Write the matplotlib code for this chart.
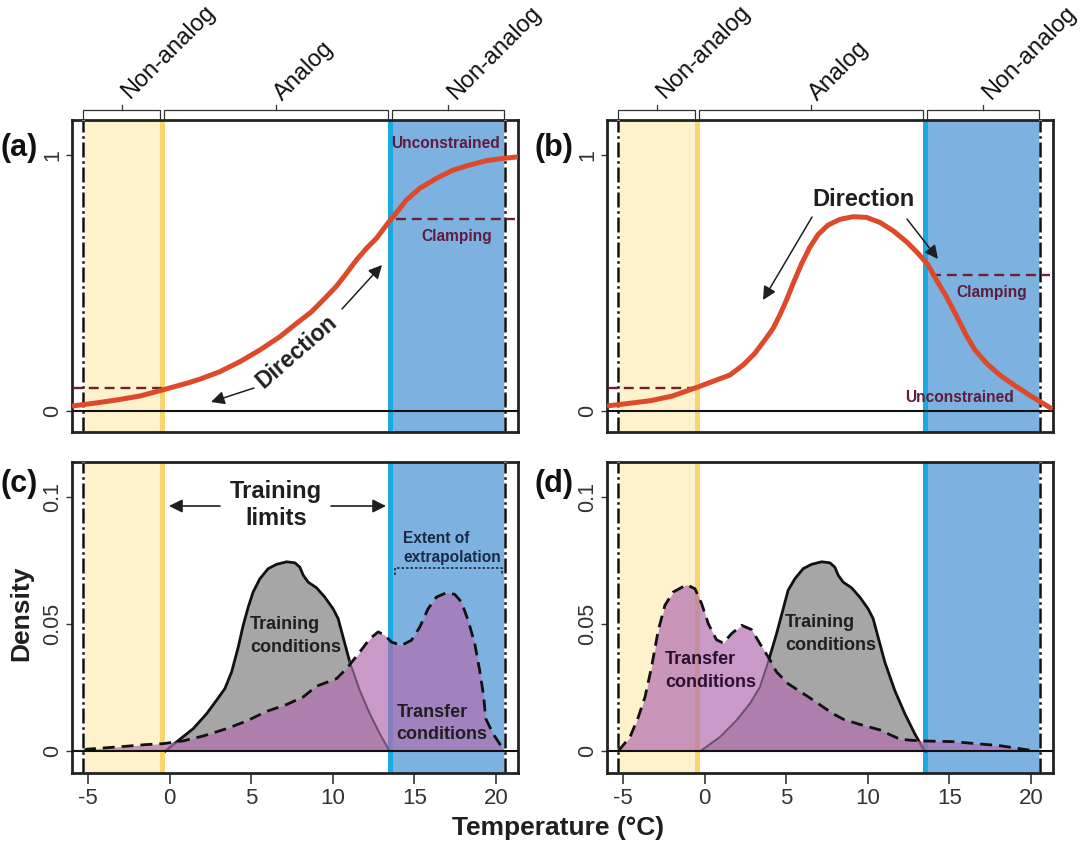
import matplotlib
matplotlib.use("Agg")
import matplotlib.pyplot as plt

plt.rcParams['font.family'] = ['Liberation Sans', 'DejaVu Sans']

W, H = 1080, 844

resp_a_x = [-5.98, -4.67, -3.25, -1.82, -0.59, 1.04, 1.86, 3.08, 4.31, 5.53, 6.76, 7.78, 8.7, 9.51, 10.23, 10.84,
            11.45, 12.06, 12.68, 13.39, 13.7, 14.51, 15.33, 16.35, 17.37, 18.39, 19.41, 20.43, 21.35]
resp_a_y = [0.0196, 0.03, 0.043, 0.0586, 0.0795, 0.1081, 0.1245, 0.1537, 0.1927, 0.2383, 0.2904, 0.3425, 0.388, 0.44,
            0.488, 0.538, 0.59, 0.635, 0.675, 0.735, 0.759, 0.824, 0.870, 0.909, 0.9414, 0.961, 0.978, 0.987, 0.993]
resp_b_x = [-5.98, -5.0, -3.35, -2.0, -0.4, 0.6, 1.55, 2.37, 3.08, 3.69, 4.2, 4.61, 5.02, 5.43, 5.94, 6.45, 6.96,
            7.57, 8.29, 9.1, 9.92, 10.74, 11.55, 12.37, 13.08, 13.7, 14.21, 14.82, 15.53, 16.0, 16.55, 17.3, 18.1,
            19.0, 19.9, 20.6, 21.3]
resp_b_y = [0.02, 0.027, 0.04, 0.058, 0.094, 0.118, 0.1407, 0.18, 0.2253, 0.2774, 0.323, 0.375, 0.4336, 0.4987, 0.575,
            0.64, 0.69, 0.7266, 0.7487, 0.7591, 0.7565, 0.737, 0.7044, 0.6615, 0.616, 0.5703, 0.5118, 0.4466, 0.36,
            0.30, 0.24, 0.185, 0.14, 0.1, 0.0625, 0.035, 0.008]
clamp_low = 0.0886
clamp_high_a = 0.75
clamp_high_b = 0.53

train_c_x = [-0.25, 0.43, 1.45, 2.27, 2.88, 3.39, 3.8, 4.21, 4.51, 4.82, 5.12, 5.53, 6.04, 6.55, 7.17, 7.68, 7.98, 8.19,
             8.49, 9.0, 9.51, 10.02, 10.33, 10.63, 11.04, 11.65, 12.27, 12.88, 13.45, 13.55]
train_c_y = [0, 0.0036, 0.0088, 0.0147, 0.02, 0.0246, 0.0311, 0.041, 0.0495, 0.0567, 0.0626, 0.0678, 0.0718, 0.0735,
             0.0745, 0.0741, 0.0724, 0.0692, 0.0665, 0.0643, 0.0606, 0.056, 0.0521, 0.0449, 0.0351, 0.0239, 0.0147,
             0.0068, 0.0003, 0]
train_d_x = [-0.25, 0.94, 1.96, 2.78, 3.39, 3.96, 4.41, 5.12, 5.53, 6.04, 6.55, 7.17, 7.68, 7.98, 8.19,
             8.49, 9.0, 9.51, 10.02, 10.33, 10.63, 11.04, 11.65, 12.27, 12.88, 13.45, 13.55]
train_d_y = [0, 0.0055, 0.0121, 0.0187, 0.0252, 0.0364, 0.0462, 0.0633, 0.0678, 0.0718, 0.0735,
             0.0745, 0.0741, 0.0724, 0.0692, 0.0665, 0.0643, 0.0606, 0.056, 0.0521, 0.0449, 0.0351, 0.0239, 0.0147,
             0.0068, 0.0003, 0]
transfer_c_x = [-5.2, -5.1, -3.0, -1.5, -0.39, 0.84, 2.06, 3.49, 4.72, 5.94, 7.17, 8.19, 9.0, 10.23, 10.84, 11.55, 12.27,
                12.78, 13.19, 13.59, 14.21, 14.82, 15.33, 15.84, 16.35, 16.96, 17.47, 17.88, 18.29, 18.7, 19.0, 19.25,
                19.37, 19.82, 20.43, 20.5]
transfer_c_y = [0, 0.0007, 0.0017, 0.0025, 0.0029, 0.004, 0.0059, 0.0088, 0.0118, 0.0156, 0.0183, 0.0213, 0.0255, 0.0285,
                0.0324, 0.0381, 0.0442, 0.0469, 0.0456, 0.0429, 0.0416, 0.0436, 0.0488, 0.056, 0.0606, 0.0623, 0.0617,
                0.0587, 0.0515, 0.0423, 0.0318, 0.0213, 0.0128, 0.0068, 0.0009, 0]
transfer_d_x = [-5.29, -4.57, -4.06, -3.65, -3.25, -2.84, -2.43, -1.92, -1.1, -0.59, -0.18, 0.23, 0.73, 1.14, 1.65, 2.27,
                2.88, 3.39, 3.96, 4.41, 5.12, 6.36, 7.0, 7.84, 8.5, 9.5, 10.8, 11.4, 12.0, 13.1, 15.2, 18.1, 20.25]
transfer_d_y = [0, 0.0055, 0.0134, 0.0213, 0.0331, 0.0475, 0.0574, 0.0626, 0.0655, 0.0639, 0.058, 0.0501, 0.0438, 0.0425,
                0.0462, 0.0495, 0.0478, 0.0423, 0.0364, 0.0311, 0.0265, 0.0213, 0.0185, 0.0148, 0.0125, 0.0105, 0.0082,
                0.0063, 0.0046, 0.004, 0.0037, 0.0021, 0]
# where the training line goes under the transfer fill
cross_c = 11.04
cross_d = 3.96

x_ticks = [-5, 0, 5, 10, 15, 20]
x_labels = ['-5', '0', '5', '10', '15', '20']

PANEL_XLIM = (-5.98, 21.35)
YLIM_RESP = (-0.082, 1.137)
YLIM_DENS = (-0.00866, 0.1138)

INK = '#1f1f1f'
RED = '#dd4a2b'
MAROON = '#6e1f33'
LABEL_RED = '#5f1c3c'
NAVY = '#1a2a44'


def fx(x):
    return x / W


def fy(y):
    return 1 - y / H


def add_text(x, y, s, **kw):
    kw.setdefault('ha', 'center')
    kw.setdefault('va', 'center')
    kw.setdefault('color', INK)
    fig.text(fx(x), fy(y), s, **kw)


def add_arrow(x0, y0, x1, y1, lw=1.1, scale=20):
    ann = plt.annotate('', xy=(fx(x1), fy(y1)), xytext=(fx(x0), fy(y0)),
                       xycoords='figure fraction', textcoords='figure fraction',
                       arrowprops=dict(arrowstyle='-|>', color=INK, lw=lw, mutation_scale=scale,
                                       shrinkA=0, shrinkB=0))
    ann.set_annotation_clip(False)


def make_axes(left, top, yticks, ylabels, ylim, show_x):
    height = 311 if show_x else 312
    ax = fig.add_axes([fx(left), fy(top + height), 446 / W, height / H])
    ax.set_xlim(PANEL_XLIM)
    ax.set_ylim(ylim)

    # shaded extrapolation and training bands
    ax.axvspan(-5.18, -0.59, color='#fdf2cb', lw=0, zorder=0)
    ax.axvspan(-0.59, -0.28, color='#f8d66d', lw=0, zorder=1)
    ax.axvspan(13.39, 13.7, color='#1ba9e1', lw=0, zorder=1)
    ax.axvspan(13.7, 20.53, color='#7db2e0', lw=0, zorder=0)
    for xv in (-5.31, 20.53):
        ax.axvline(xv, color='white', lw=1.8, zorder=5)
        ax.axvline(xv, color='#111111', lw=1.8, ls=(0, (6, 1.5, 1, 1.5)), zorder=5)
    ax.axhline(0, color='#111111', lw=1.5, zorder=6)

    ax.set_yticks(yticks)
    ax.set_yticklabels(ylabels, rotation=90, va='center', color='#333333', fontsize=15.5)
    ax.tick_params(axis='y', length=4.5, width=1, color='#333333', pad=2)
    if show_x:
        ax.set_xticks(x_ticks)
        ax.set_xticklabels(x_labels, color='#333333', fontsize=16)
        ax.tick_params(axis='x', length=8, width=1.2, color='#333333', pad=3)
    else:
        ax.set_xticks([])
    for spine in ax.spines.values():
        spine.set_linewidth(2)
        spine.set_color('#222222')
    return ax


def add_brackets(left):
    spans = [(83, 160), (164, 388), (392, 504)]
    words = ['Non-analog', 'Analog', 'Non-analog']
    centers = [(168, 52), (304, 71), (494, 53)]
    for (a, b), w, (cx, cy) in zip(spans, words, centers):
        a += left - 72
        b += left - 72
        mid = (a + b) / 2
        xs = [a, a, b, b]
        ys = [117.5, 110, 110, 117.5]
        fig.add_artist(plt.Line2D([fx(v) for v in xs], [fy(v) for v in ys], color='#333333', lw=0.9))
        fig.add_artist(plt.Line2D([fx(mid), fx(mid)], [fy(110), fy(105)], color='#333333', lw=0.9))
        add_text(cx + left - 72, cy, w, rotation=45, fontsize=17, rotation_mode='anchor', color='#111111')


def draw_density(ax, tx, ty, ux, uy, cross):
    ax.fill_between(tx, ty, 0, color='#a6a6a6', lw=0, zorder=2)
    # black where the training line is in the open, faded where it runs under the transfer fill
    if cross > 8:
        open_part = [i for i, v in enumerate(tx) if v <= cross]
        hidden_part = [i for i, v in enumerate(tx) if v >= cross]
    else:
        open_part = [i for i, v in enumerate(tx) if v >= cross]
        hidden_part = [i for i, v in enumerate(tx) if v <= cross]
    ax.plot([tx[i] for i in open_part], [ty[i] for i in open_part], color='#111111', lw=2, zorder=3)
    ax.plot([tx[i] for i in hidden_part], [ty[i] for i in hidden_part], color='#6a4f72', lw=1.4, zorder=4.5)
    ax.fill_between(ux, uy, 0, color='#b26eb0', alpha=0.7, lw=0, zorder=4)
    ax.plot(ux, uy, color='#111111', lw=2, ls=(0, (4.3, 2.5)), zorder=5)


fig = plt.figure(figsize=(W / 100, H / 100), dpi=100)

ax_a = make_axes(72, 120, [0, 1], ['0', '1'], YLIM_RESP, False)
ax_b = make_axes(607, 120, [0, 1], ['0', '1'], YLIM_RESP, False)
ax_c = make_axes(72, 462, [0, 0.05, 0.1], ['0', '0.05', '0.1'], YLIM_DENS, True)
ax_d = make_axes(607, 462, [0, 0.05, 0.1], ['0', '0.05', '0.1'], YLIM_DENS, True)

for ax, cx, cy, high in [(ax_a, resp_a_x, resp_a_y, clamp_high_a), (ax_b, resp_b_x, resp_b_y, clamp_high_b)]:
    ax.plot([-5.9, -0.49], [clamp_low, clamp_low], color=MAROON, lw=1.7, ls=(0, (4.2, 2.5)), zorder=6)
    ax.plot([13.9, 21.15], [high, high], color=MAROON, lw=1.7, ls=(0, (4.2, 2.5)), zorder=6)
    ax.plot(cx, cy, color=RED, lw=3.6, zorder=7, solid_capstyle='butt', solid_joinstyle='round')

draw_density(ax_c, train_c_x, train_c_y, transfer_c_x, transfer_c_y, cross_c)
draw_density(ax_d, train_d_x, train_d_y, transfer_d_x, transfer_d_y, cross_d)

add_brackets(72)
add_brackets(607)

# panel letters
for s, x, y in [('(a)', 19, 148), ('(b)', 554, 148), ('(c)', 19, 484), ('(d)', 554, 484)]:
    add_text(x, y, s, fontsize=22, fontweight='bold', color='#111111')

# panel a notes
add_text(446, 143, 'Unconstrained', fontsize=11.2, fontweight='bold', color=LABEL_RED)
add_text(457, 236, 'Clamping', fontsize=11.2, fontweight='bold', color=LABEL_RED)
add_text(297, 352, 'Direction', fontsize=16.5, fontweight='bold', rotation=41)
add_arrow(342, 309, 382, 265)
add_arrow(254, 388, 211, 402)

# panel b notes
add_text(959, 397, 'Unconstrained', fontsize=11.2, fontweight='bold', color=LABEL_RED)
add_text(992, 292, 'Clamping', fontsize=11.2, fontweight='bold', color=LABEL_RED)
add_text(863.5, 200, 'Direction', fontsize=17, fontweight='bold')
add_arrow(812, 217, 763, 300)
add_arrow(907, 219, 938, 259)

# panel c notes
add_text(276, 505, 'Training\nlimits', fontsize=17, fontweight='bold', linespacing=1.27)
add_arrow(220, 506, 169, 506, lw=1.2)
add_arrow(331, 506, 386, 506, lw=1.2)
add_text(403, 548, 'Extent of\nextrapolation', fontsize=11.2, fontweight='bold', ha='left', color=NAVY, linespacing=1.3)
fig.add_artist(plt.Line2D([fx(395), fx(395), fx(502), fx(502)], [fy(575), fy(567.7), fy(567.7), fy(575)],
                          color=NAVY, lw=1.2, ls=(0, (1.5, 1.2))))
add_text(250, 636, 'Training\nconditions', fontsize=13, fontweight='bold', ha='left', linespacing=1.4)
add_text(396.5, 723.5, 'Transfer\nconditions', fontsize=13, fontweight='bold', ha='left', linespacing=1.4)

# panel d notes
add_text(785, 634, 'Training\nconditions', fontsize=13, fontweight='bold', ha='left', linespacing=1.4)
add_text(665, 671, 'Transfer\nconditions', fontsize=13, fontweight='bold', ha='left', linespacing=1.4, color='#2a1030')

add_text(21, 613, 'Density', fontsize=19, fontweight='bold', rotation=90)
add_text(558, 828, 'Temperature (°C)', fontsize=19, fontweight='bold')

fig.savefig('out.png', dpi=100)
